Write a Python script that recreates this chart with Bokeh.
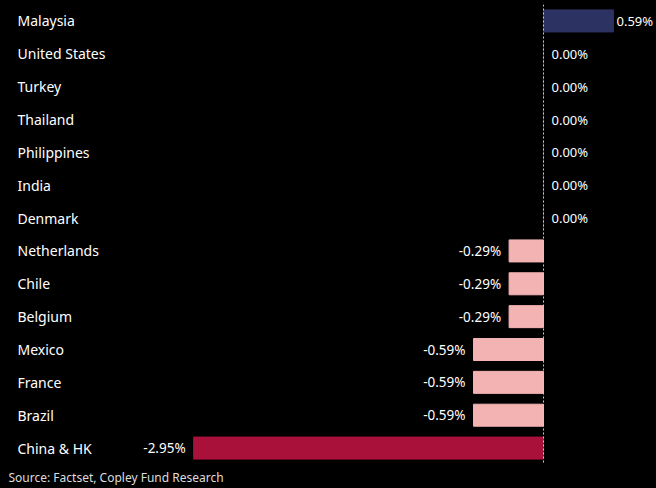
from bokeh.plotting import figure
from bokeh.models import ColumnDataSource, FactorRange, Span, Title, Range1d
from bokeh.core.properties import value
from bokeh.embed import file_html
from bokeh.resources import INLINE

countries = ["Malaysia", "United States", "Turkey", "Thailand", "Philippines", "India",
             "Denmark", "Netherlands", "Chile", "Belgium", "Mexico", "France", "Brazil",
             "China & HK"]
values = [0.59, 0.00, 0.00, 0.00, 0.00, 0.00, 0.00, -0.29, -0.29, -0.29, -0.59, -0.59,
          -0.59, -2.95]
source_note = "Source:  Factset, Copley Fund Research"

NAVY = "#2c3362"
PINK = "#f3b3b3"
CRIMSON = "#a9103a"

W, H = 656, 488
ZERO_PX = 543
PX_PER_UNIT = 118.6
x_start = -ZERO_PX / PX_PER_UNIT
x_end = (W - ZERO_PX) / PX_PER_UNIT

colors = [NAVY if v >= 0 else (CRIMSON if v <= -1 else PINK) for v in values]
labels = ["%.2f%%" % v for v in values]
src = ColumnDataSource(dict(
    cat=countries, val=values, color=colors, lab=labels,
    left_x=[x_start] * len(countries),
    pos_x=[v if v >= 0 else float("nan") for v in values],
    pos_off=[3 if v > 0 else 8 for v in values],
    neg_x=[v if v < 0 else float("nan") for v in values],
))

p = figure(width=W, height=H, output_backend="svg", toolbar_location=None,
           y_range=FactorRange(factors=list(reversed(countries)), range_padding=0),
           x_range=Range1d(x_start, x_end),
           background_fill_color="black", border_fill_color="black",
           min_border_left=0, min_border_right=0, min_border_top=4, min_border_bottom=0)
p.outline_line_color = None
p.axis.visible = False
p.grid.visible = False

p.hbar(y="cat", left=0, right="val", height=0.67, fill_color="color",
       line_color="color", line_width=1, source=src)

p.add_layout(Span(location=0, dimension="height", line_color="#cccccc",
                  line_dash="2 2", line_width=1))

FONT = value("Noto Sans")
p.text(x="left_x", y="cat", text="cat", source=src, x_offset=17,
       text_font=FONT, text_font_size="14px", text_color="white",
       text_baseline="middle", text_align="left")

p.text(x="pos_x", y="cat", text="lab", source=src, x_offset="pos_off",
       text_font=FONT, text_font_size="13px", text_color="white",
       text_baseline="middle", text_align="left")
p.text(x="neg_x", y="cat", text="lab", source=src, x_offset=-8,
       text_font=FONT, text_font_size="13.5px", text_color="white",
       text_baseline="middle", text_align="right")

p.add_layout(Title(text=source_note, align="left", offset=8, standoff=5,
                   text_font="Noto Sans", text_font_size="12px", text_color="#dddddd",
                   text_font_style="normal"), "below")

html = file_html(p, INLINE)
html = html.replace("<head>", "<head><style>html,body{margin:0;padding:0;background:#000;}</style>", 1)
open("out.html", "w").write(html)
